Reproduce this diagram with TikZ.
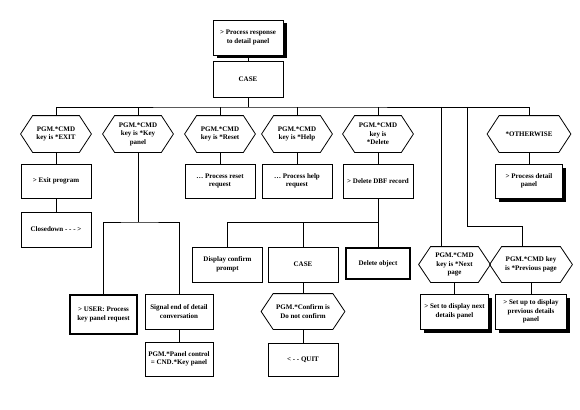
\documentclass[tikz,border=0pt]{standalone}
\usepackage{fontspec}
\setmainfont{Liberation Serif}
\usetikzlibrary{shadows}
\tikzset{
  every node/.style={font=\bfseries\fontsize{7}{8.5}\selectfont, align=center, inner sep=1pt},
  box/.style={draw, line width=0.8pt, minimum width=70pt, minimum height=35pt},
  shadowbox/.style={box, fill=white, drop shadow={shadow xshift=3.5pt, shadow yshift=-3.5pt, fill=black, opacity=1}},
  thickbox/.style={box, line width=2.6pt},
  hexa/.style={minimum width=70pt, minimum height=36pt},
}
\begin{document}
\begin{tikzpicture}[x=1pt,y=-1pt,line width=0.8pt]
      \useasboundingbox (0,0) rectangle (580,409);
      \node[shadowbox] (resp) at (248,37.5) {> Process response\\to detail panel};
      \node[box, minimum height=36pt] (case) at (248,79) {CASE};
      % first row of conditions
      \node[hexa] (exit) at (56,134) {PGM.*CMD\\key is *EXIT};
      \node[hexa] (keyp) at (138,134) {PGM.*CMD\\key is *Key\\panel};
      \node[hexa] (reset) at (220,134) {PGM.*CMD\\key is *Reset};
      \node[hexa] (help) at (297,134) {PGM.*CMD\\key is *Help};
      \node[hexa] (delete) at (378,134) {PGM.*CMD\\key is\\*Delete};
      \node[hexa, minimum width=83pt] (other) at (529,134) {*OTHERWISE};
      % actions
      \node[box, minimum height=34pt] (exitprog) at (56,181) {> Exit program};
      \node[box, minimum height=34pt] (resetproc) at (220,181) {\ldots{} Process reset\\request};
      \node[box, minimum height=34pt] (helpproc) at (297,181) {\ldots{} Process help\\request};
      \node[box, minimum height=34pt] (deldbf) at (378,181) {> Delete DBF record};
      \node[shadowbox, minimum width=67pt, minimum height=34pt] (detail) at (529,181) {> Process detail\\panel};
      \node[box] (closedown) at (56,229.5) {Closedown - - - >};
      \node[thickbox, minimum width=67pt, minimum height=39pt] (user) at (103.5,314.5) {> USER: Process\\key panel request};
      \node[box, minimum width=68pt] (signal) at (179,311.5) {Signal end of detail\\conversation};
      \node[box, minimum width=68pt, minimum height=34pt] (panelctl) at (179,359) {PGM.*Panel control\\= CND.*Key panel};
      \node[box] (confprompt) at (227.5,264.5) {Display confirm\\prompt};
      \node[box] (case2) at (303,264.5) {CASE};
      \node[thickbox, minimum width=64pt, minimum height=31pt] (delobj) at (378,263.5) {Delete object};
      \node[hexa, minimum width=83pt, minimum height=35pt] (confirm) at (303,311.5) {PGM.*Confirm is\\Do not confirm};
      \node[box, minimum height=33pt] (quit) at (303,359.5) {< - - QUIT};
      \node[hexa, minimum width=71pt, minimum height=35pt] (next) at (454.5,264.5) {PGM.*CMD\\key is *Next\\page};
      \node[hexa, minimum width=82pt, minimum height=35pt] (prev) at (531,264.5) {PGM.*CMD key\\is *Previous page};
      \node[shadowbox, minimum width=68pt] (setnext) at (454.5,311.5) {> Set to display next\\details panel};
      \node[shadowbox, minimum width=71pt] (setprev) at (531,311.5) {> Set up to display\\previous details\\panel};
      % hexagon outlines
      \foreach \h in {exit,keyp,reset,help,delete,other,confirm,next,prev}
        \draw (\h.west) -- ([xshift=12pt]\h.north west) -- ([xshift=-12pt]\h.north east)
          -- (\h.east) -- ([xshift=-12pt]\h.south east) -- ([xshift=12pt]\h.south west) -- cycle;
      % junctions
      \coordinate (bus) at (248,107);
      \coordinate (bnext) at (441,107);
      \coordinate (bprev) at (467,107);
      \coordinate (jprev) at (522,226.5);
      \coordinate (jkey) at (138,222);
      \coordinate (jdel) at (378,222);
      \begin{scope}[-]
        \draw (resp) to (case);
        \draw (case) to (bus);
        \draw (exit.north) |- (bus) -| (other.north);
        \foreach \h in {keyp,reset,help,delete}
          \draw (\h.north) to (\h.north |- bus);
        \draw (bnext) to (bnext |- next.north);
        \draw (bprev) |- (jprev) -- (jprev |- prev.north);
        \draw (exit) to (exitprog);
        \draw (exitprog) to (closedown);
        \draw (keyp) to (jkey);
        \draw (user.north) |- (jkey) -| (signal.north);
        \draw (signal) to (panelctl);
        \draw (reset) to (resetproc);
        \draw (help) to (helpproc);
        \draw (delete) to (deldbf);
        \draw (deldbf) to (delobj);
        \draw (confprompt.north) |- (jdel);
        \draw (case2.north) to (case2.north |- jdel);
        \draw (case2) to (confirm);
        \draw (confirm) to (quit);
        \draw (other) to (detail);
        \draw (next) to (setnext);
        \draw (prev) to (setprev);
      \end{scope}
    \end{tikzpicture}
\end{document}
